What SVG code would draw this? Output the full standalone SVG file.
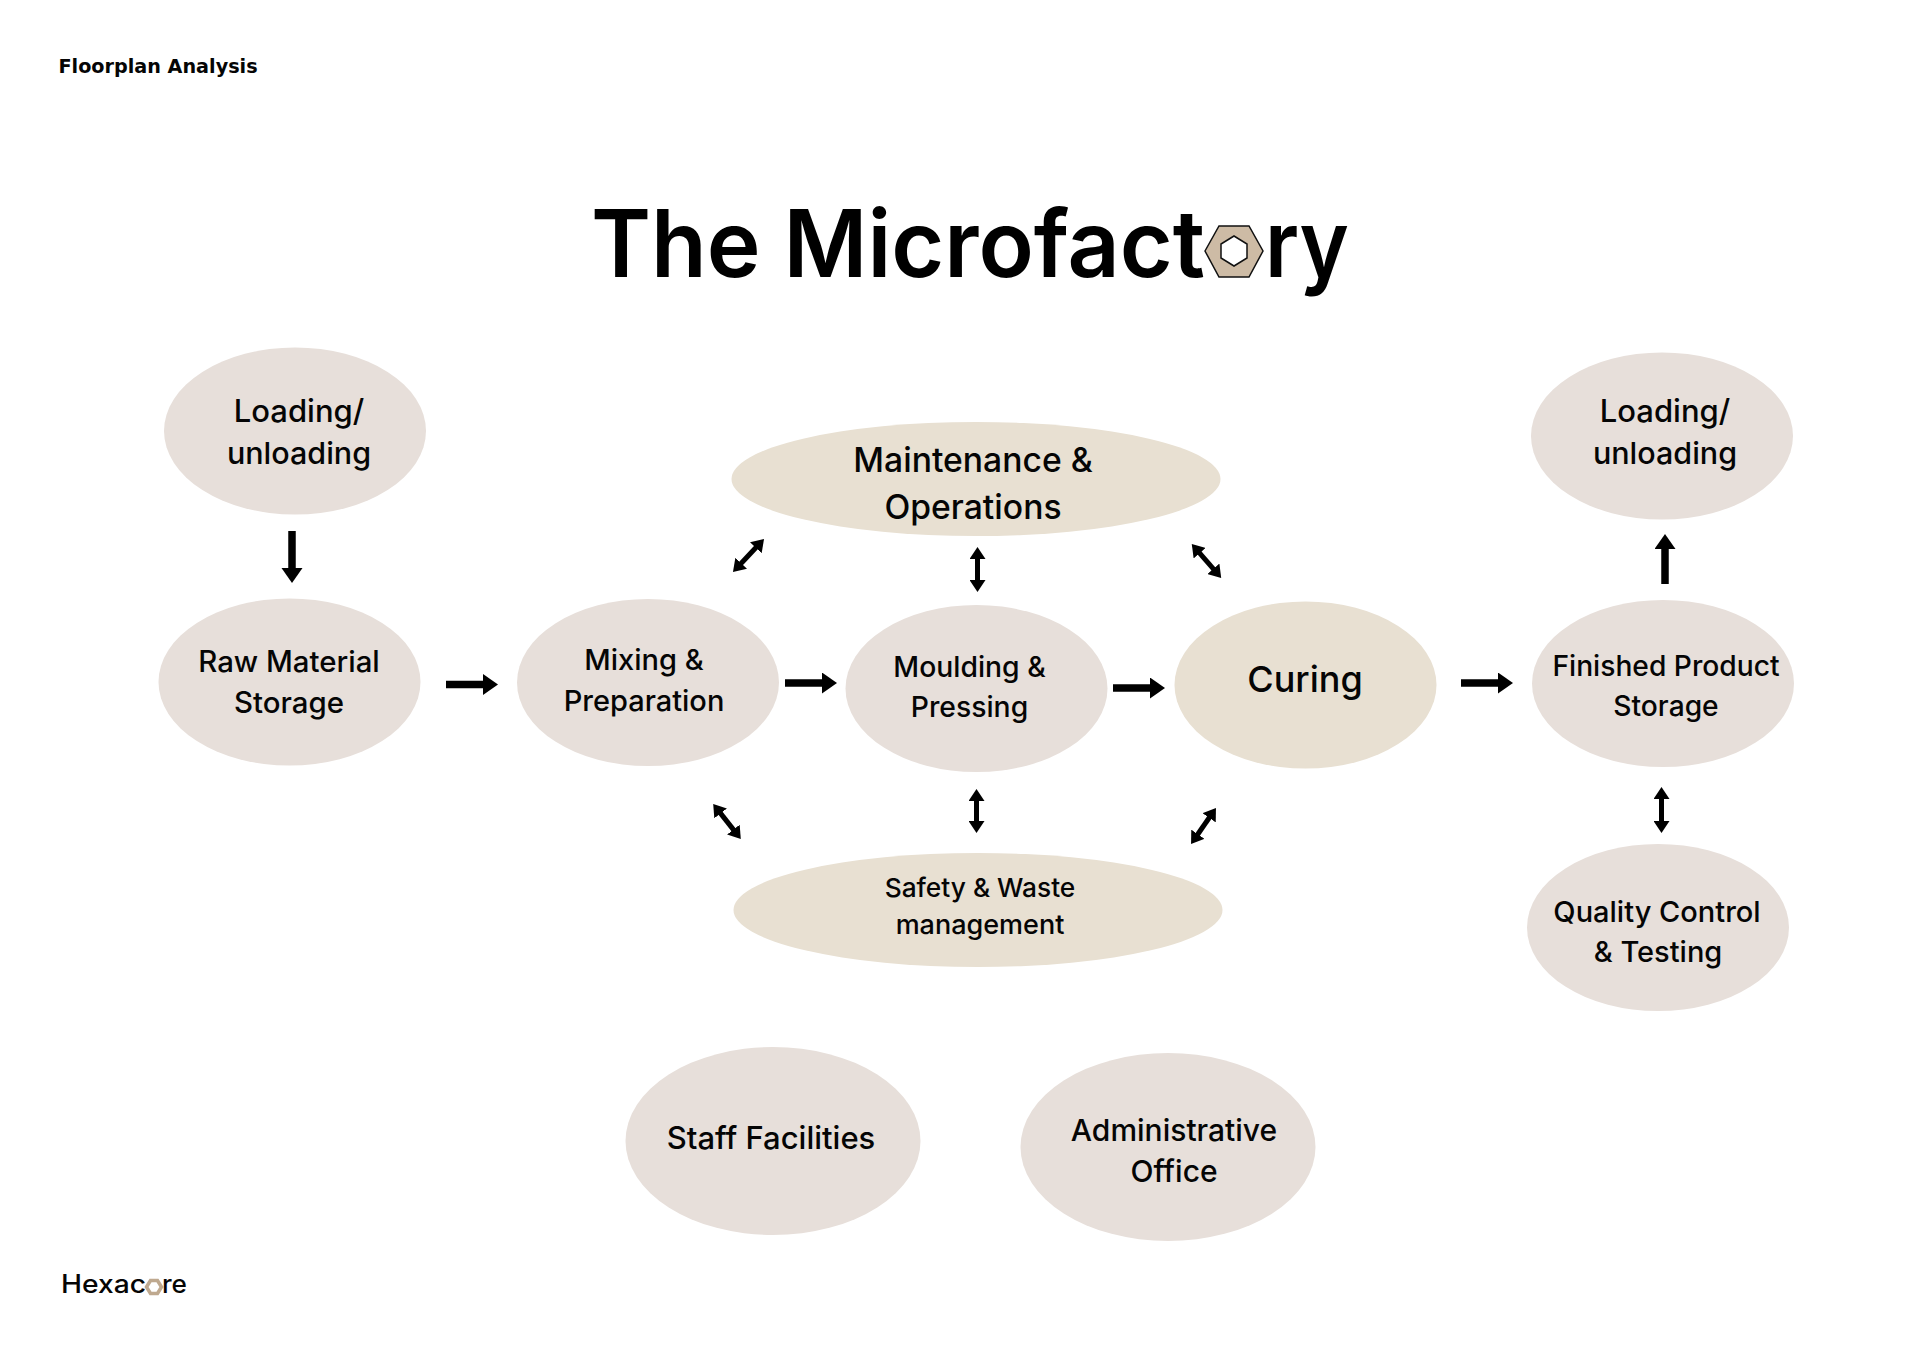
<svg xmlns="http://www.w3.org/2000/svg" width="1920" height="1357" viewBox="0 0 1920 1357">
<style>
.a{fill:#e7dfda}.b{fill:#e8e0d2}
text{font-family:"Inter","Liberation Sans",sans-serif;font-weight:500;fill:#050505;text-anchor:middle;font-size:29px}
.s{stroke:#000;stroke-width:7.500;fill:none;marker-end:url(#h)}
.d{stroke:#000;stroke-width:5;fill:none;marker-start:url(#k);marker-end:url(#k)}
</style>
<defs>
<marker id="h" markerUnits="userSpaceOnUse" markerWidth="16" markerHeight="22" refX="1" refY="10.500" orient="auto"><path d="M0 0L15 10.500L0 21Z"/></marker>
<marker id="k" markerUnits="userSpaceOnUse" markerWidth="14" markerHeight="16" refX="1" refY="8" orient="auto-start-reverse"><path d="M0 0L12 8L0 16Z"/></marker>
</defs>
<rect width="1920" height="1357" fill="#fff"/>
<g id="header">
<text x="58.500" y="72.500" style="font-family:'DejaVu Sans',sans-serif;font-weight:700;font-size:19.200px;text-anchor:start">Floorplan Analysis</text>
</g>
<g id="title">
<text x="591" y="277" style="font-size:93px;font-weight:600;fill:#000;text-anchor:start" textLength="614" lengthAdjust="spacingAndGlyphs">The Microfact</text>
<polygon points="1205,251 1219,226 1249,226 1263,251 1249,277 1219,277" fill="#cdbba5" stroke="#111" stroke-width="1.500"/>
<polygon points="1234,236 1247,244 1247,258 1234,266 1221,258 1221,244" fill="#fff" stroke="#111" stroke-width="1.500"/>
<text x="1265" y="277" style="font-size:93px;font-weight:600;fill:#000;text-anchor:start" textLength="84" lengthAdjust="spacingAndGlyphs">ry</text>
</g>
<g id="logo">
<text x="61" y="1293" style="font-size:25px;text-anchor:start" textLength="85" lengthAdjust="spacingAndGlyphs">Hexac</text>
<polygon points="146.500,1287 150.500,1280.500 157.500,1280.500 161.500,1287 157.500,1293.500 150.500,1293.500" fill="#fff" stroke="#bfa98f" stroke-width="3.500"/>
<text x="162" y="1293" style="font-size:25px;text-anchor:start" textLength="25" lengthAdjust="spacingAndGlyphs">re</text>
</g>
<g id="loading-left"><ellipse class="a" cx="295" cy="431" rx="131" ry="83.500"/><text x="299" y="422" style="font-size:31px">Loading/</text><text x="299" y="464" style="font-size:30.500px">unloading</text></g>
<g id="raw-material"><ellipse class="a" cx="289.500" cy="682" rx="131" ry="83.500"/><text x="289" y="672" style="font-size:29.400px">Raw Material</text><text x="289" y="713" style="font-size:29.400px">Storage</text></g>
<g id="mixing"><ellipse class="a" cx="648" cy="682.500" rx="131" ry="83.500"/><text x="644" y="670">Mixing &amp;</text><text x="644" y="711">Preparation</text></g>
<g id="moulding"><ellipse class="a" cx="976.500" cy="688.500" rx="131" ry="83.500"/><text x="969.500" y="677" style="font-size:28.300px">Moulding &amp;</text><text x="969.500" y="717" style="font-size:28.300px">Pressing</text></g>
<g id="curing"><ellipse class="b" cx="1305.500" cy="685" rx="131" ry="83.500"/><text x="1305" y="692" style="font-size:36px">Curing</text></g>
<g id="finished"><ellipse class="a" cx="1663" cy="683.500" rx="131" ry="83.500"/><text x="1666" y="676" style="font-size:28.200px">Finished Product</text><text x="1666" y="716" style="font-size:28.200px">Storage</text></g>
<g id="loading-right"><ellipse class="a" cx="1662" cy="436" rx="131" ry="83.500"/><text x="1665" y="422" style="font-size:31px">Loading/</text><text x="1665" y="464" style="font-size:30.500px">unloading</text></g>
<g id="quality"><ellipse class="a" cx="1658" cy="927.500" rx="131" ry="83.500"/><text x="1657" y="922">Quality Control</text><text x="1658" y="962">&amp; Testing</text></g>
<g id="maintenance"><ellipse class="b" cx="976" cy="479" rx="244.500" ry="57"/><text x="973" y="472" style="font-size:33.700px">Maintenance &amp;</text><text x="973" y="519" style="font-size:33.700px">Operations</text></g>
<g id="safety"><ellipse class="b" cx="978" cy="910" rx="244.500" ry="57"/><text x="980" y="897" style="font-size:26.300px">Safety &amp; Waste</text><text x="980" y="934" style="font-size:27px">management</text></g>
<g id="staff"><ellipse class="a" cx="773" cy="1141" rx="147.500" ry="94"/><text x="771" y="1149" style="font-size:31px">Staff Facilities</text></g>
<g id="admin"><ellipse class="a" cx="1168" cy="1147" rx="147.500" ry="94"/><text x="1174" y="1141" style="font-size:30px">Administrative</text><text x="1174" y="1182" style="font-size:30px">Office</text></g>
<g id="connectors">
<line class="s" x1="292" y1="531" x2="292" y2="569"/>
<line class="s" x1="446" y1="684.500" x2="484" y2="684.500"/>
<line class="s" x1="785" y1="683" x2="823" y2="683"/>
<line class="s" x1="1113" y1="688" x2="1151" y2="688"/>
<line class="s" x1="1461" y1="683" x2="1499" y2="683"/>
<line class="s" x1="1665" y1="584" x2="1665" y2="548"/>
<line class="d" x1="756.500" y1="547" x2="740.500" y2="564"/>
<line class="d" x1="977.500" y1="558" x2="977.500" y2="581"/>
<line class="d" x1="1199" y1="552.400" x2="1214" y2="569.600"/>
<line class="d" x1="720" y1="812.600" x2="734" y2="830.400"/>
<line class="d" x1="976.500" y1="800" x2="976.500" y2="822"/>
<line class="d" x1="1209.700" y1="817" x2="1197.300" y2="835"/>
<line class="d" x1="1661.500" y1="798" x2="1661.500" y2="822"/>
</g>
</svg>
